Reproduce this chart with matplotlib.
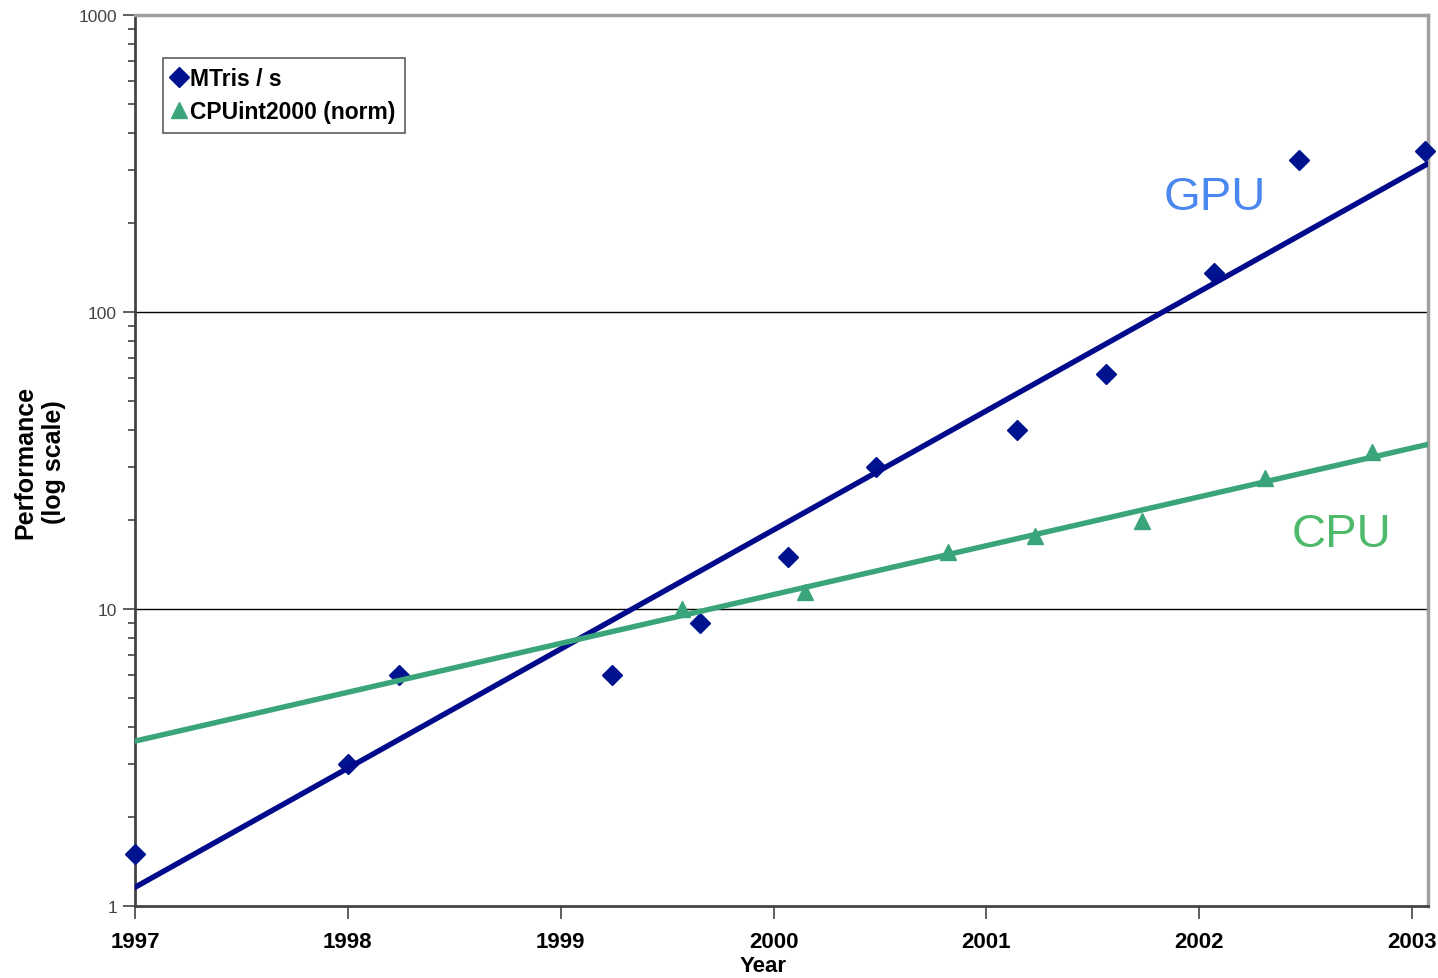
import numpy as np
import matplotlib.pyplot as plt
from matplotlib.ticker import FixedLocator, LogLocator, NullFormatter

plt.rcParams['font.family'] = ['Liberation Sans', 'DejaVu Sans']

# GPU throughput, millions of triangles per second
gpu_year = [1997.0, 1998.0, 1998.24, 1999.24, 1999.655, 2000.07, 2000.48,
            2001.146, 2001.56, 2002.07, 2002.47, 2003.06]
gpu_mtris = [1.5, 3.0, 6.0, 6.0, 9.0, 15.0, 30.0, 40.0, 62.0, 135.0, 325.0, 348.0]

# CPU SPECint2000, normalised
cpu_year = [1999.57, 2000.15, 2000.82, 2001.23, 2001.73, 2002.31, 2002.81]
cpu_spec = [10.0, 11.4, 15.5, 17.6, 19.8, 27.6, 33.7]

years = [1997, 1998, 1999, 2000, 2001, 2002, 2003]
x_range = [1997.0, 2003.075]

navy = '#00138f'
line_navy = '#000a8a'
green = '#3aa57a'

fig = plt.figure(figsize=(14.38, 9.79), dpi=100)
ax = fig.add_axes([135 / 1438, 1 - 907 / 979, (1428 - 135) / 1438, (907 - 16) / 979])

ax.set_yscale('log')
ax.set_xlim(x_range)
ax.set_ylim(1, 1000)

# exponential trend lines (least squares on log values)
xs = np.linspace(x_range[0], x_range[1], 50)
g = np.polyfit(gpu_year, np.log10(gpu_mtris), 1)
c = np.polyfit(cpu_year, np.log10(cpu_spec), 1)

ax.plot(gpu_year, gpu_mtris, linestyle='none', marker='D', ms=10.5, color=navy,
        mec=navy, clip_on=False, zorder=3, label='MTris / s')
ax.plot(cpu_year, cpu_spec, linestyle='none', marker='^', ms=12, color=green,
        mec=green, clip_on=False, zorder=3, label='CPUint2000 (norm)')
ax.plot(xs, 10 ** np.polyval(g, xs), color=line_navy, lw=3.9, zorder=4)
ax.plot(xs, 10 ** np.polyval(c, xs), color=green, lw=3.9, zorder=5)

for v in [10, 100]:
    ax.axhline(v, color='black', lw=1, zorder=1)

ax.annotate('GPU', xy=(1215 / 1438, 1 - 198 / 979), xycoords='figure fraction',
            color='#4a88ef', fontsize=34, ha='center', va='center')
ax.annotate('CPU', xy=(1342 / 1438, 1 - 535 / 979), xycoords='figure fraction',
            color='#4db96a', fontsize=34, ha='center', va='center')

ax.xaxis.set_major_locator(FixedLocator(years))
ax.set_xticklabels([str(y) for y in years], fontsize=16, fontweight='bold')
ax.tick_params(axis='x', which='major', length=9, width=1.2, pad=9, color='#444444')
ax.yaxis.set_major_locator(FixedLocator([1, 10, 100, 1000]))
ax.set_yticklabels(['1', '10', '100', '1000'], fontsize=12.5, color='#444444')
ax.yaxis.set_minor_locator(LogLocator(base=10, subs=np.arange(2, 10)))
ax.yaxis.set_minor_formatter(NullFormatter())
ax.tick_params(axis='y', which='major', length=9, width=1.2, color='#444444', pad=4)
ax.tick_params(axis='y', which='minor', length=5, width=1.2, color='#444444')

ax.spines['left'].set_color('#444444')
ax.spines['bottom'].set_color('#444444')
ax.spines['left'].set_linewidth(2)
ax.spines['bottom'].set_linewidth(2)
ax.spines['top'].set_color('#a0a0a0')
ax.spines['right'].set_color('#a0a0a0')
ax.spines['top'].set_linewidth(2.5)
ax.spines['right'].set_linewidth(2.5)

fig.text(40 / 1438, 1 - 462 / 979, 'Performance\n(log scale)', rotation=90,
         fontsize=18, fontweight='bold', ha='center', va='center', linespacing=1.25)
fig.text(763 / 1438, 1 - 977 / 979, 'Year', fontsize=16, fontweight='bold',
         ha='center', va='bottom')

leg = ax.legend(loc='upper left', bbox_to_anchor=(163 / 1438, 1 - 59 / 979),
                bbox_transform=fig.transFigure, frameon=True, fancybox=False,
                prop={'weight': 'bold', 'size': 16.5}, handlelength=0.6,
                handletextpad=0.2, borderpad=0.4, labelspacing=0.45,
                borderaxespad=0)
leg.get_frame().set_edgecolor('#333333')
leg.get_frame().set_linewidth(1.2)

fig.savefig('out.png', dpi=100)
